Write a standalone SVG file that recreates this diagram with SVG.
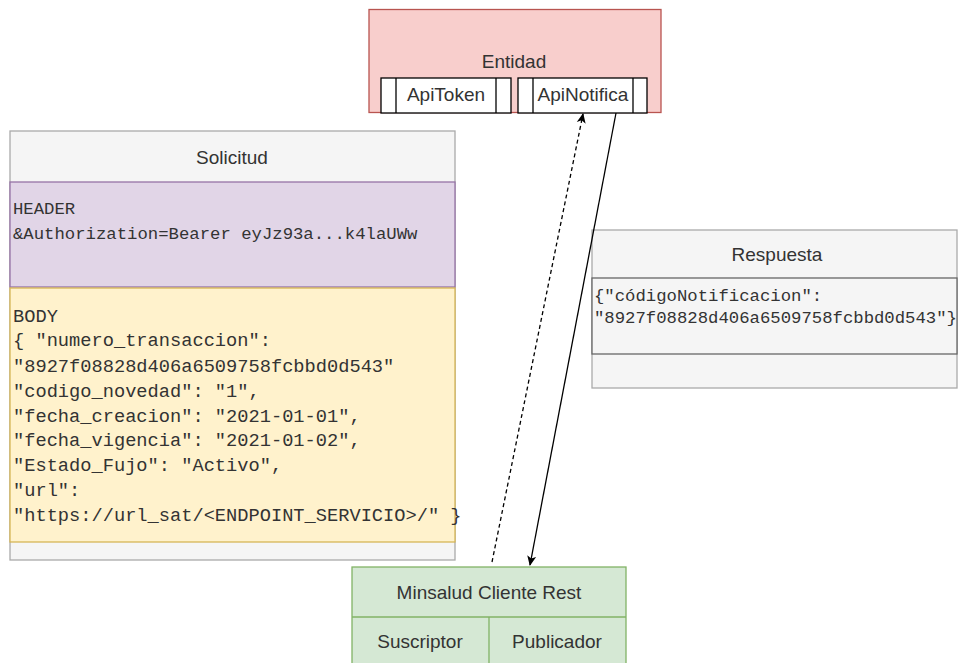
<svg xmlns="http://www.w3.org/2000/svg" width="958" height="663" viewBox="0 0 958 663">
<style>
.t{font-family:"Liberation Sans",Arial,sans-serif;font-size:19px;fill:#333;text-anchor:middle}
.m{font-family:"Liberation Mono","DejaVu Sans Mono",monospace;font-size:17.3px;fill:#333}
.c{font-family:"Liberation Mono","Courier New",monospace;font-size:18.7px;fill:#333}
.g{fill:#f5f5f5;stroke:#aaa;stroke-width:1.3}
.p{fill:#fff;stroke:#000;stroke-width:1.3}
.e{fill:none;stroke:#000;stroke-width:1.3}
</style>
<defs>
<marker id="ah" viewBox="0 0 10 10" refX="9" refY="5" markerWidth="10" markerHeight="10" markerUnits="userSpaceOnUse" orient="auto">
<path d="M0,0.5 L10,5 L0,9.5 L2.5,5 Z" fill="#000"/>
</marker>
</defs>
<g id="entidad">
<rect x="369" y="9.5" width="292" height="103" fill="#f8cecc" stroke="#b85450" stroke-width="1.3"/>
<text class="t" x="514" y="68">Entidad</text>
</g>
<g id="apitoken">
<rect class="p" x="381" y="78" width="130" height="35"/>
<line class="e" x1="396" y1="78" x2="396" y2="113"/>
<line class="e" x1="496" y1="78" x2="496" y2="113"/>
<text class="t" x="446" y="101">ApiToken</text>
</g>
<g id="apinotifica">
<rect class="p" x="518" y="78" width="129" height="35"/>
<line class="e" x1="533" y1="78" x2="533" y2="113"/>
<line class="e" x1="633" y1="78" x2="633" y2="113"/>
<text class="t" x="583" y="101">ApiNotifica</text>
</g>
<g id="solicitud">
<rect class="g" x="10" y="131" width="445" height="429"/>
<text class="t" x="232" y="164">Solicitud</text>
<rect x="10" y="182" width="445" height="105" fill="#e1d5e7" stroke="#9673a6" stroke-width="1.3"/>
<text class="m" x="13" y="214">HEADER</text>
<text class="m" x="13" y="239">&amp;Authorization=Bearer eyJz93a...k4laUWw</text>
<rect x="10" y="288" width="445" height="254" fill="#fff2cc" stroke="#d6b656" stroke-width="1.3"/>
<g class="c">
<text x="13" y="322">BODY</text>
<text x="13" y="346">{ "numero_transaccion":</text>
<text x="13" y="372">"8927f08828d406a6509758fcbbd0d543"</text>
<text x="13" y="397">"codigo_novedad": "1",</text>
<text x="13" y="422">"fecha_creacion": "2021-01-01",</text>
<text x="13" y="446">"fecha_vigencia": "2021-01-02",</text>
<text x="13" y="471">"Estado_Fujo": "Activo",</text>
<text x="13" y="496">"url":</text>
<text x="13" y="521">"https://url_sat/&lt;ENDPOINT_SERVICIO&gt;/" }</text>
</g>
</g>
<g id="respuesta">
<rect class="g" x="592" y="230" width="365" height="158"/>
<text class="t" x="777" y="261">Respuesta</text>
<rect x="592" y="278" width="365" height="76" fill="#f5f5f5" stroke="#666" stroke-width="1.3"/>
<text class="m" x="594" y="301">{"códigoNotificacion":</text>
<text class="m" x="594" y="323">"8927f08828d406a6509758fcbbd0d543"}</text>
</g>
<g id="minsalud">
<rect x="352" y="567" width="274" height="100" fill="#d5e8d4" stroke="#82b366" stroke-width="1.3"/>
<line x1="352" y1="617" x2="626" y2="617" stroke="#82b366" stroke-width="1.3"/>
<line x1="489" y1="617" x2="489" y2="667" stroke="#82b366" stroke-width="1.3"/>
<text class="t" x="489" y="599">Minsalud Cliente Rest</text>
<text class="t" x="420" y="648">Suscriptor</text>
<text class="t" x="557" y="648">Publicador</text>
</g>
<g id="connectors">
<line x1="492" y1="562" x2="583" y2="114" stroke="#000" stroke-width="1.3" stroke-dasharray="4 3" marker-end="url(#ah)"/>
<line x1="616" y1="113" x2="530" y2="565" stroke="#000" stroke-width="1.3" marker-end="url(#ah)"/>
</g>
</svg>
